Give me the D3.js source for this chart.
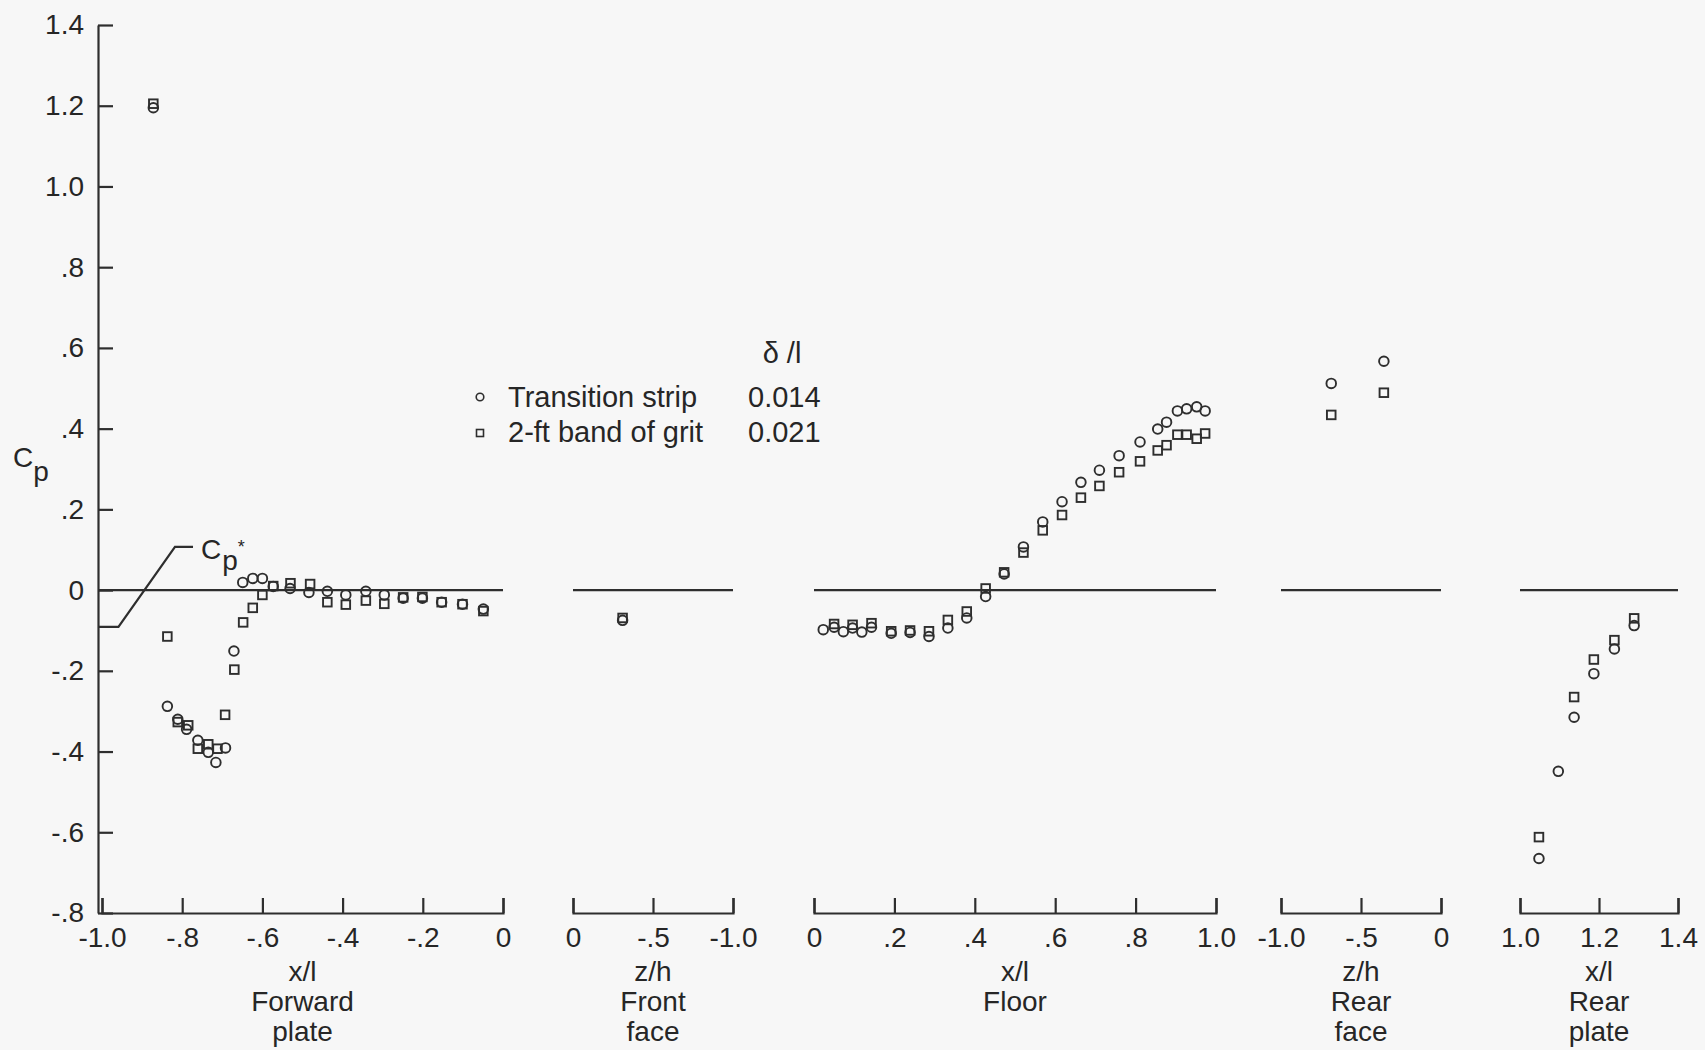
<!DOCTYPE html>
<html>
<head>
<meta charset="utf-8">
<script src="https://cdn.jsdelivr.net/npm/d3@7"></script>
<style>
  body { margin: 0; background: #f7f7f7; }
  svg { display: block; }
</style>
</head>
<body>
<div id="chart"></div>
<script>

//--------------------------------------------------------------------------
//
// data
//

// y axis
var cpTicks = [1.4, 1.2, 1.0, 0.8, 0.6, 0.4, 0.2, 0, -0.2, -0.4, -0.6, -0.8];
var cpTickLabels = ["1.4", "1.2", "1.0", ".8", ".6", ".4", ".2", "0", "-.2", "-.4", "-.6", "-.8"];

// forward plate, x/l
var forwardTicks = [-1.0, -0.8, -0.6, -0.4, -0.2, 0];
var forwardTickLabels = ["-1.0", "-.8", "-.6", "-.4", "-.2", "0"];
var forwardStrip = [
  [-0.872, 1.195], [-0.837, -0.288], [-0.811, -0.320], [-0.789, -0.345], [-0.761, -0.372],
  [-0.735, -0.402], [-0.716, -0.427], [-0.692, -0.391], [-0.671, -0.151], [-0.649, 0.019],
  [-0.624, 0.029], [-0.600, 0.029], [-0.573, 0.009], [-0.531, 0.004], [-0.484, -0.006],
  [-0.438, -0.003], [-0.392, -0.012], [-0.342, -0.003], [-0.296, -0.012], [-0.249, -0.020],
  [-0.201, -0.020], [-0.153, -0.030], [-0.101, -0.035], [-0.049, -0.047]
];
var forwardGrit = [
  [-0.872, 1.205], [-0.837, -0.115], [-0.811, -0.327], [-0.785, -0.335], [-0.761, -0.393],
  [-0.735, -0.382], [-0.712, -0.393], [-0.693, -0.309], [-0.670, -0.197], [-0.648, -0.080],
  [-0.624, -0.044], [-0.600, -0.012], [-0.573, 0.010], [-0.530, 0.017], [-0.481, 0.015],
  [-0.438, -0.030], [-0.392, -0.036], [-0.342, -0.026], [-0.296, -0.034], [-0.249, -0.018],
  [-0.201, -0.017], [-0.153, -0.030], [-0.101, -0.035], [-0.049, -0.052]
];
// Cp* leader line
var cpStarLine = [[-1.01, -0.091], [-0.959, -0.091], [-0.818, 0.107], [-0.773, 0.107]];

// front face, z/h
var frontTicks = [0, -0.5, -1.0];
var frontTickLabels = ["0", "-.5", "-1.0"];
var frontStrip = [[-0.31, -0.075]];
var frontGrit = [[-0.31, -0.069]];

// floor, x/l
var floorTicks = [0, 0.2, 0.4, 0.6, 0.8, 1.0];
var floorTickLabels = ["0", ".2", ".4", ".6", ".8", "1.0"];
var floorStrip = [
  [0.023, -0.098], [0.050, -0.092], [0.073, -0.103], [0.096, -0.094], [0.119, -0.104],
  [0.143, -0.092], [0.192, -0.107], [0.239, -0.105], [0.286, -0.115], [0.333, -0.094],
  [0.380, -0.069], [0.427, -0.016], [0.473, 0.040], [0.521, 0.107], [0.569, 0.169],
  [0.617, 0.219], [0.664, 0.267], [0.710, 0.297], [0.759, 0.333], [0.811, 0.367],
  [0.855, 0.399], [0.877, 0.416], [0.904, 0.444], [0.927, 0.449], [0.952, 0.454],
  [0.973, 0.444]
];
var floorGrit = [
  [0.050, -0.084], [0.096, -0.086], [0.143, -0.082], [0.192, -0.102], [0.239, -0.100],
  [0.286, -0.102], [0.333, -0.074], [0.380, -0.053], [0.427, 0.004], [0.473, 0.044],
  [0.521, 0.093], [0.569, 0.148], [0.617, 0.186], [0.664, 0.229], [0.710, 0.258],
  [0.759, 0.292], [0.811, 0.319], [0.855, 0.346], [0.877, 0.359], [0.904, 0.385],
  [0.927, 0.385], [0.952, 0.375], [0.973, 0.388]
];

// rear face, z/h
var rearFaceTicks = [-1.0, -0.5, 0];
var rearFaceTickLabels = ["-1.0", "-.5", "0"];
var rearFaceStrip = [[-0.686, 0.512], [-0.357, 0.567]];
var rearFaceGrit = [[-0.686, 0.434], [-0.357, 0.489]];

// rear plate, x/l
var rearPlateTicks = [1.0, 1.2, 1.4];
var rearPlateTickLabels = ["1.0", "1.2", "1.4"];
var rearPlateStrip = [[1.048, -0.665], [1.097, -0.449], [1.137, -0.315], [1.187, -0.207], [1.239, -0.146], [1.289, -0.088]];
var rearPlateGrit = [[1.048, -0.612], [1.137, -0.265], [1.187, -0.172], [1.239, -0.124], [1.289, -0.070]];

// legend
var legendNames = ["Transition strip", "2-ft band of grit"];
var legendValues = ["0.014", "0.021"];

//--------------------------------------------------------------------------
//
// chart
//

var outerWidth = 1705,
    outerHeight = 1050,
    ink = "#2e2e2e",
    textInk = "#262626",
    font = "'Liberation Sans', Arial, Helvetica, sans-serif";

var svg = d3.select("#chart").append("svg")
    .attr("width", outerWidth)
    .attr("height", outerHeight);

svg.append("rect")
    .attr("width", outerWidth)
    .attr("height", outerHeight)
    .attr("fill", "#f7f7f7");

var y = d3.scaleLinear().domain([-0.8, 1.4]).range([913, 25]);
var axisX = 98;

var panels = [
  {scale: d3.scaleLinear().domain([-1, 0]).range([102, 503]), ticks: forwardTicks, labels: forwardTickLabels,
   title: ["x/l", "Forward", "plate"], strip: forwardStrip, grit: forwardGrit, zeroFrom: axisX},
  {scale: d3.scaleLinear().domain([0, -1]).range([573, 733]), ticks: frontTicks, labels: frontTickLabels,
   title: ["z/h", "Front", "face"], strip: frontStrip, grit: frontGrit},
  {scale: d3.scaleLinear().domain([0, 1]).range([814, 1216]), ticks: floorTicks, labels: floorTickLabels,
   title: ["x/l", "Floor"], strip: floorStrip, grit: floorGrit},
  {scale: d3.scaleLinear().domain([-1, 0]).range([1281, 1441]), ticks: rearFaceTicks, labels: rearFaceTickLabels,
   title: ["z/h", "Rear", "face"], strip: rearFaceStrip, grit: rearFaceGrit},
  {scale: d3.scaleLinear().domain([1, 1.4]).range([1520, 1678]), ticks: rearPlateTicks, labels: rearPlateTickLabels,
   title: ["x/l", "Rear", "plate"], strip: rearPlateStrip, grit: rearPlateGrit}
];

function styleAxis(g) {
  g.attr("font-family", font).attr("font-size", 28);
  g.selectAll("path, line").attr("stroke", ink).attr("stroke-width", 2.2);
  g.selectAll("text").attr("fill", textInk);
}

// y axis
svg.append("g")
    .attr("transform", "translate(" + axisX + ",0)")
    .call(d3.axisLeft(y)
      .tickValues(cpTicks)
      .tickFormat(function(d) { return cpTickLabels[cpTicks.indexOf(d)]; })
      .tickSizeInner(-15)
      .tickSizeOuter(0)
      .tickPadding(14))
    .call(styleAxis);

var cpLabel = svg.append("text")
    .attr("x", 13).attr("y", 467)
    .attr("font-family", font).attr("font-size", 28).attr("fill", textInk);
cpLabel.append("tspan").text("C");
cpLabel.append("tspan").attr("dy", 14).text("p");

// panels
panels.forEach(function(p) {
  var x = p.scale,
      r = x.range(),
      mid = (r[0] + r[1]) / 2;

  svg.append("g")
      .attr("transform", "translate(0," + y(-0.8) + ")")
      .call(d3.axisBottom(x)
        .tickValues(p.ticks)
        .tickFormat(function(d) { return p.labels[p.ticks.indexOf(d)]; })
        .tickSizeInner(-15)
        .tickSizeOuter(-15)
        .tickPadding(14))
      .call(styleAxis);

  // Cp = 0 reference line
  svg.append("line")
      .attr("x1", p.zeroFrom || r[0])
      .attr("x2", r[1])
      .attr("y1", y(0))
      .attr("y2", y(0))
      .attr("stroke", ink)
      .attr("stroke-width", 2.2);

  // axis titles
  svg.append("g")
      .selectAll("text")
      .data(p.title)
      .join("text")
      .attr("x", mid)
      .attr("y", function(d, i) { return 981 + i * 30; })
      .attr("text-anchor", "middle")
      .attr("font-family", font)
      .attr("font-size", 28)
      .attr("fill", textInk)
      .text(function(d) { return d; });

  // markers
  svg.append("g")
      .selectAll("rect")
      .data(p.grit)
      .join("rect")
      .attr("x", function(d) { return x(d[0]) - 4.3; })
      .attr("y", function(d) { return y(d[1]) - 4.3; })
      .attr("width", 8.6)
      .attr("height", 8.6)
      .attr("fill", "none")
      .attr("stroke", ink)
      .attr("stroke-width", 1.9);

  svg.append("g")
      .selectAll("circle")
      .data(p.strip)
      .join("circle")
      .attr("cx", function(d) { return x(d[0]); })
      .attr("cy", function(d) { return y(d[1]); })
      .attr("r", 4.8)
      .attr("fill", "none")
      .attr("stroke", ink)
      .attr("stroke-width", 1.9);
});

// Cp* leader
var xf = panels[0].scale;
svg.append("path")
    .datum(cpStarLine)
    .attr("d", d3.line()
      .x(function(d) { return xf(d[0]); })
      .y(function(d) { return y(d[1]); }))
    .attr("fill", "none")
    .attr("stroke", ink)
    .attr("stroke-width", 2.2);

var starLabel = svg.append("text")
    .attr("x", xf(cpStarLine[3][0]) + 8)
    .attr("y", y(cpStarLine[3][1]) + 12)
    .attr("font-family", font).attr("font-size", 28).attr("fill", textInk);
starLabel.append("tspan").text("C");
starLabel.append("tspan").attr("dx", 1).attr("dy", 11).text("p");
starLabel.append("tspan").attr("dx", 0).attr("dy", -17).attr("font-size", 18).text("*");

//--------------------------------------------------------------------------
//
// legend
//

var legend = svg.append("g")
    .attr("font-family", font)
    .attr("font-size", 29)
    .attr("fill", textInk);

legend.append("text")
    .attr("x", 782).attr("y", 363)
    .attr("text-anchor", "middle")
    .text("\u03b4 /l");

legend.append("circle")
    .attr("cx", 480).attr("cy", 397)
    .attr("r", 3.8)
    .attr("fill", "none").attr("stroke", ink).attr("stroke-width", 1.6);

legend.append("rect")
    .attr("x", 476.5).attr("y", 429.5)
    .attr("width", 7).attr("height", 7)
    .attr("fill", "none").attr("stroke", ink).attr("stroke-width", 1.6);

legend.selectAll("text.name")
    .data(legendNames)
    .join("text")
    .attr("class", "name")
    .attr("x", 508)
    .attr("y", function(d, i) { return 407 + i * 35; })
    .text(function(d) { return d; });

legend.selectAll("text.value")
    .data(legendValues)
    .join("text")
    .attr("class", "value")
    .attr("x", 748)
    .attr("y", function(d, i) { return 407 + i * 35; })
    .text(function(d) { return d; });

</script>
</body>
</html>
